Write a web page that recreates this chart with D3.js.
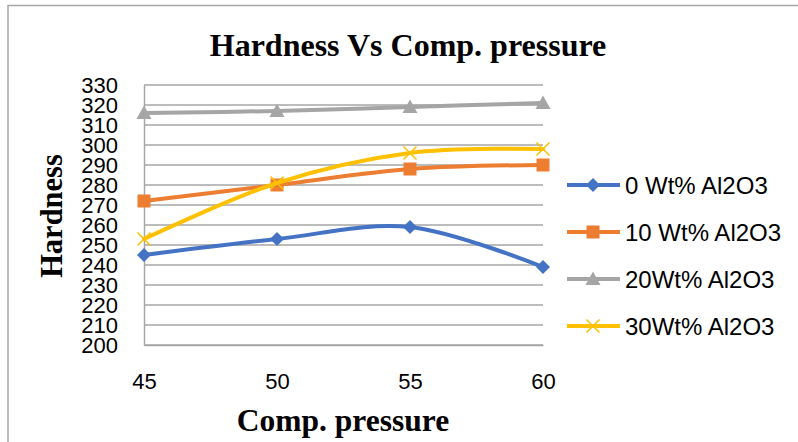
<!DOCTYPE html>
<html>
<head>
<meta charset="utf-8">
<script src="https://cdn.jsdelivr.net/npm/d3@7"></script>
<style>
  html, body { margin: 0; padding: 0; background: #fff; }
  svg { display: block; }
</style>
</head>
<body>
<svg id="chart" width="798" height="442"></svg>
<script>
// Compaction pressure categories
const pressures = [45, 50, 55, 60];
// Hardness for each Al2O3 content
const hard0 = [245, 253, 259, 239];
const hard10 = [272, 280, 288, 290];
const hard20 = [316, 317, 319, 321];
const hard30 = [253, 281, 296, 298];
const seriesNames = ["0 Wt% Al2O3", "10 Wt% Al2O3", "20Wt% Al2O3", "30Wt% Al2O3"];
const seriesColors = ["#4472C4", "#ED7D31", "#A5A5A5", "#FFC000"];
const seriesMarkers = ["diamond", "square", "triangle", "cross"];
const yTicks = d3.range(200, 331, 10);

const series = [hard0, hard10, hard20, hard30].map((vals, i) => ({
  name: seriesNames[i], color: seriesColors[i], marker: seriesMarkers[i],
  points: pressures.map((p, j) => ({ x: p, y: vals[j] }))
}));

const svg = d3.select("#chart");
const plot = { left: 144, right: 543, top: 85, bottom: 345 };

const x = d3.scalePoint().domain(pressures).range([plot.left, plot.right]);
const y = d3.scaleLinear().domain([200, 330]).range([plot.bottom, plot.top]);

const sansFont = "'Liberation Sans', Arial, sans-serif";
const serifFont = "'Liberation Serif', 'Times New Roman', serif";

// chart frame
svg.append("rect")
  .attr("x", 8).attr("y", 5.5).attr("width", 900).attr("height", 600)
  .attr("fill", "none").attr("stroke", "#a6a6a6").attr("stroke-width", 1.5);

// title
svg.append("text")
  .attr("x", 408).attr("y", 56)
  .attr("text-anchor", "middle")
  .style("font-family", serifFont).style("font-weight", "bold").style("font-size", "32px")
  .text("Hardness Vs Comp. pressure");

// horizontal gridlines
svg.append("g").selectAll("line").data(yTicks).join("line")
  .attr("x1", plot.left).attr("x2", plot.right)
  .attr("y1", d => y(d)).attr("y2", d => y(d))
  .attr("stroke", "#a6a6a6").attr("stroke-width", 1.3);

// y axis
const yAxis = svg.append("g")
  .attr("transform", `translate(${plot.left},0)`)
  .call(d3.axisLeft(y).tickValues(yTicks).tickSize(0).tickPadding(26));
yAxis.select(".domain").attr("stroke", "#a6a6a6").attr("stroke-width", 1.5);
yAxis.selectAll("text")
  .style("font-family", sansFont).style("font-size", "22px").attr("fill", "#000");

// x axis
const xAxis = svg.append("g")
  .attr("transform", `translate(0,${plot.bottom})`)
  .call(d3.axisBottom(x).tickSize(0).tickPadding(28));
xAxis.select(".domain").attr("stroke", "#a6a6a6").attr("stroke-width", 1.5);
xAxis.selectAll("text")
  .style("font-family", sansFont).style("font-size", "22px").attr("fill", "#000");

// axis titles
svg.append("text")
  .attr("x", 343).attr("y", 431)
  .attr("text-anchor", "middle")
  .style("font-family", serifFont).style("font-weight", "bold").style("font-size", "31.5px")
  .text("Comp. pressure");

svg.append("text")
  .attr("transform", "translate(62,216) rotate(-90)")
  .attr("text-anchor", "middle")
  .style("font-family", serifFont).style("font-weight", "bold").style("font-size", "30.5px")
  .text("Hardness");

// marker drawing
function drawMarker(sel, type, color) {
  if (type === "diamond") {
    sel.append("path").attr("d", "M0,-7L7,0L0,7L-7,0Z").attr("fill", color);
  } else if (type === "square") {
    sel.append("rect").attr("x", -6.5).attr("y", -6.5).attr("width", 13).attr("height", 13).attr("fill", color);
  } else if (type === "triangle") {
    sel.append("path").attr("d", "M0,-7.5L7.5,6L-7.5,6Z").attr("fill", color);
  } else {
    sel.append("path").attr("d", "M-6.5,-6.5L6.5,6.5M-6.5,6.5L6.5,-6.5")
      .attr("stroke", color).attr("stroke-width", 1.5).attr("fill", "none");
  }
}

const line = d3.line().x(d => x(d.x)).y(d => y(d.y)).curve(d3.curveCardinal.tension(0));

series.forEach(s => {
  const g = svg.append("g");
  g.append("path").datum(s.points)
    .attr("d", line)
    .attr("fill", "none").attr("stroke", s.color).attr("stroke-width", 4)
    .attr("stroke-linejoin", "round").attr("stroke-linecap", "round");
  g.selectAll("g.pt").data(s.points).join("g")
    .attr("class", "pt")
    .attr("transform", d => `translate(${x(d.x)},${y(d.y)})`)
    .each(function () { drawMarker(d3.select(this), s.marker, s.color); });
});

// legend
const legend = svg.append("g");
series.forEach((s, i) => {
  const ly = 185 + i * 47;
  const g = legend.append("g").attr("transform", `translate(0,${ly})`);
  g.append("line").attr("x1", 567).attr("x2", 620).attr("y1", 0).attr("y2", 0)
    .attr("stroke", s.color).attr("stroke-width", 4);
  drawMarker(g.append("g").attr("transform", "translate(593,0)"), s.marker, s.color);
  g.append("text").attr("x", 625).attr("y", 8.5)
    .style("font-family", sansFont).style("font-size", "24px").attr("fill", "#000")
    .text(s.name);
});
</script>
</body>
</html>
